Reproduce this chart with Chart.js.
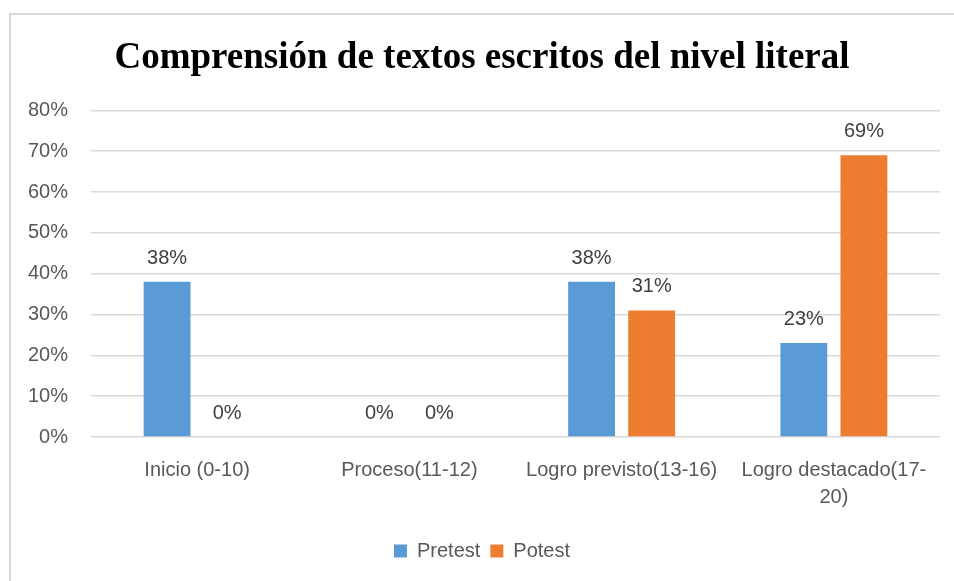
<!DOCTYPE html>
<html>
<head>
<meta charset="utf-8">
<script src="https://cdn.jsdelivr.net/npm/chart.js@4/dist/chart.umd.min.js"></script>
<style>
  html, body { margin: 0; padding: 0; background: #fff; }
  #frame { position: absolute; left: 9px; top: 13px; width: 980px; height: 600px;
           border-top: 2px solid #d9d9d9; border-left: 2px solid #d9d9d9; }
  #chart { position: absolute; left: 0; top: 0; }
</style>
</head>
<body>
<div id="frame"></div>
<canvas id="chart" width="954" height="581"></canvas>
<script>
const categories = ['Inicio (0-10)', 'Proceso(11-12)', 'Logro previsto(13-16)', ['Logro destacado(17-', '20)']];
const pretest = [38, 0, 38, 23];
const potest = [0, 0, 31, 69];
const yTicks = [0, 10, 20, 30, 40, 50, 60, 70, 80];

const labelFont = "'Liberation Sans', Arial, sans-serif";

// draws the % value above each bar
const valueLabels = {
  id: 'valueLabels',
  afterDatasetsDraw(chart) {
    const ctx = chart.ctx;
    ctx.save();
    ctx.font = '20px ' + labelFont;
    ctx.fillStyle = '#404040';
    ctx.textAlign = 'center';
    ctx.textBaseline = 'alphabetic';
    chart.data.datasets.forEach((ds, i) => {
      chart.getDatasetMeta(i).data.forEach((bar, j) => {
        ctx.fillText(ds.data[j] + '%', bar.x, bar.y - 18);
      });
    });
    ctx.restore();
  }
};

new Chart(document.getElementById('chart'), {
  type: 'bar',
  data: {
    labels: categories,
    datasets: [
      { label: 'Pretest', data: pretest, backgroundColor: '#5b9bd5' },
      { label: 'Potest', data: potest, backgroundColor: '#ed7d31' }
    ]
  },
  options: {
    responsive: false,
    animation: false,
    layout: { padding: { left: 24, right: 14, top: 0, bottom: 10 } },
    datasets: { bar: { categoryPercentage: 0.566, barPercentage: 0.78 } },
    plugins: {
      title: {
        display: true,
        text: 'Comprensión de textos escritos del nivel literal',
        color: '#000',
        font: { family: "'Liberation Serif', 'Times New Roman', serif", size: 37, weight: 'bold' },
        padding: { top: 36, bottom: 30 }
      },
      legend: {
        position: 'bottom',
        labels: {
          boxWidth: 13, boxHeight: 13, padding: 10,
          color: '#595959',
          font: { family: labelFont, size: 20 }
        }
      },
      tooltip: { enabled: false }
    },
    scales: {
      x: {
        grid: { display: false },
        border: { display: false },
        ticks: { color: '#595959', padding: 12, maxRotation: 0, font: { family: labelFont, size: 20, lineHeight: 1.35 } },
        afterFit(scale) { scale.height = 94; }
      },
      y: {
        min: 0, max: 80,
        afterBuildTicks(scale) { scale.ticks = yTicks.map(v => ({ value: v })); },
        grid: { color: '#d9d9d9', lineWidth: 1.5, drawTicks: false },
        border: { display: false },
        ticks: { color: '#595959', padding: 23, font: { family: labelFont, size: 20 }, callback: v => v + '%' },
        afterFit(scale) { scale.width = 67; }
      }
    }
  },
  plugins: [valueLabels]
});
</script>
</body>
</html>
